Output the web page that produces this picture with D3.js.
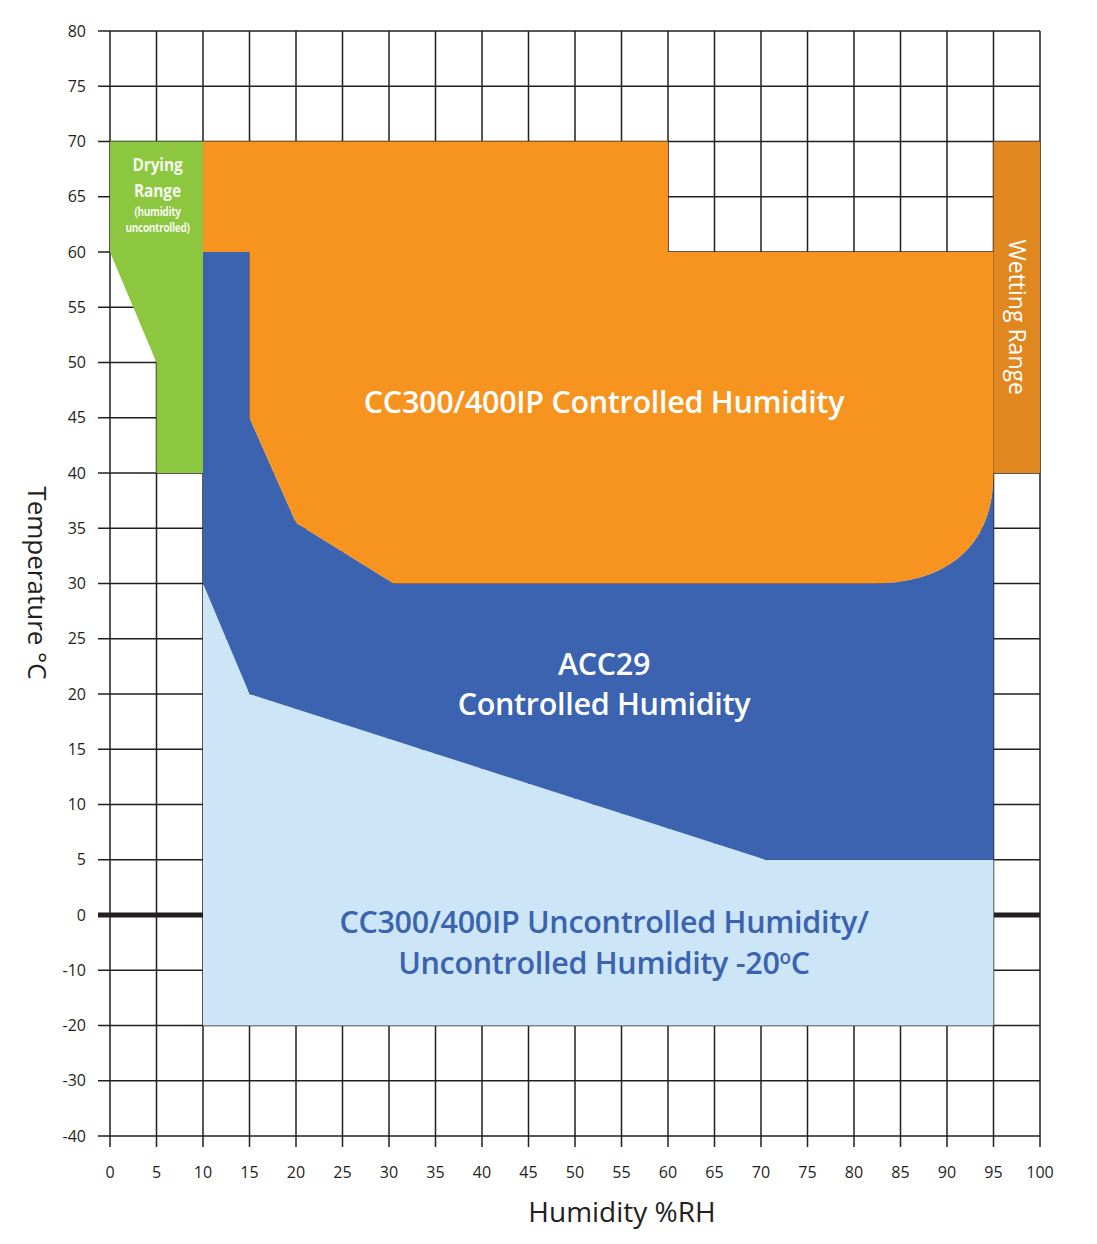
<!DOCTYPE html>
<html><head><meta charset="utf-8">
<script src="https://cdn.jsdelivr.net/npm/d3@7"></script>
<style>body{margin:0;background:#fff}svg{display:block}</style>
</head><body>
<script>
// ---- data ----
const xTicks = [0,5,10,15,20,25,30,35,40,45,50,55,60,65,70,75,80,85,90,95,100];
const yTicks = [80,75,70,65,60,55,50,45,40,35,30,25,20,15,10,5,0,-10,-20,-30,-40];
// region outlines [humidity %RH, temperature °C]
const lightBlueRegion = [[10,30],[15,20],[70.5,5],[95,5],[95,-20],[10,-20]];
const acc29Region = [[10,60],[15,60],[15,45],[20,35.5],[30.5,30],[82,30],[95,40],[95,5],[70.5,5],[15,20],[10,30]];
const orangeRegion = [[10,70],[60,70],[60,60],[95,60],[95,40],[82,30],[30.5,30],[20,35.5],[15,45],[15,60],[10,60]];
const cornerCurve = {from:[82,30], c1:[89.5,30], c2:[95,33], to:[95,40]}; // rounded corner
const dryingRegion = [[0,70],[10,70],[10,40],[5,40],[5,50],[0,60]];
const wettingRegion = [[95,70],[100,70],[100,40],[95,40]];
const dryingLines = [["Drying",18.5],["Range",18.5],["(humidity",12],["uncontrolled)",12]];

const W=1097,H=1244;
const svg=d3.select("body").append("svg").attr("width",W).attr("height",H);
const x=d3.scaleLinear().domain([0,100]).range([110,1040]);
const y=d3.scaleLinear().domain([-40,0,80]).range([1136,915,31]);
const gridCol="#231f20";
const fontTick="'Open Sans',sans-serif";

// grid
const g=svg.append("g");
g.selectAll(".h").data(yTicks).join("line")
  .attr("x1",x(0)-12).attr("x2",x(100)).attr("y1",d=>y(d)).attr("y2",d=>y(d))
  .attr("stroke",gridCol).attr("stroke-width",d=>d===0?5:1.5);
g.selectAll(".v").data(xTicks).join("line")
  .attr("x1",d=>x(d)).attr("x2",d=>x(d)).attr("y1",y(80)).attr("y2",y(-40)+11)
  .attr("stroke",gridCol).attr("stroke-width",1.5);

// tick labels
svg.append("g").selectAll("text").data(yTicks).join("text")
  .attr("x",86).attr("y",d=>y(d)).attr("dy","0.35em").attr("text-anchor","end")
  .attr("font-family",fontTick).attr("font-size",16).attr("fill",gridCol)
  .text(d=>d);
svg.append("g").selectAll("text").data(xTicks).join("text")
  .attr("x",d=>x(d)).attr("y",1178).attr("text-anchor","middle")
  .attr("font-family",fontTick).attr("font-size",16).attr("fill",gridCol)
  .text(d=>d);

const line=d3.line().x(d=>x(d[0])).y(d=>y(d[1]));
function poly(pts,fill){svg.append("path").attr("d",line(pts)+"Z").attr("fill",fill);}

// light blue
poly(lightBlueRegion,"#cce6f7");
// ACC29 blue with rounded corner
function withCorner(pts){
  const p=d3.path();
  pts.forEach((d,i)=>{
    const px=x(d[0]),py=y(d[1]);
    if(i===0){p.moveTo(px,py);return;}
    const prev=pts[i-1];
    if(prev[0]===cornerCurve.from[0]&&prev[1]===cornerCurve.from[1]&&d[0]===cornerCurve.to[0]&&d[1]===cornerCurve.to[1]){
      p.bezierCurveTo(x(cornerCurve.c1[0]),y(cornerCurve.c1[1]),x(cornerCurve.c2[0]),y(cornerCurve.c2[1]),px,py);
    } else if(prev[0]===cornerCurve.to[0]&&prev[1]===cornerCurve.to[1]&&d[0]===cornerCurve.from[0]&&d[1]===cornerCurve.from[1]){
      p.bezierCurveTo(x(cornerCurve.c2[0]),y(cornerCurve.c2[1]),x(cornerCurve.c1[0]),y(cornerCurve.c1[1]),px,py);
    } else p.lineTo(px,py);
  });
  p.closePath();return p.toString();
}
svg.append("path").attr("d",withCorner(acc29Region)).attr("fill","#3b63af");
svg.append("path").attr("d",withCorner(orangeRegion)).attr("fill","#f7931f");
poly(dryingRegion,"#8dc63f");
poly(wettingRegion,"#e0871f");

// labels
const fMain="'Open Sans',sans-serif";
function label(txt,cx,cy,size,fill,weight){
  return svg.append("text").attr("x",cx).attr("y",cy).attr("text-anchor","middle")
    .attr("font-family",fMain).attr("font-size",size).attr("font-weight",weight||600)
    .attr("fill",fill).text(txt);
}
label("CC300/400IP Controlled Humidity",604,413,30.5,"#fff").attr("letter-spacing",-0.3);
label("ACC29",604,675,30.5,"#fff").attr("letter-spacing",-0.3);
label("Controlled Humidity",604,715,30.5,"#fff").attr("letter-spacing",-0.3);
label("CC300/400IP Uncontrolled Humidity/",604,933,30.5,"#3b63af").attr("letter-spacing",-0.3);
const t2=label("",604,974,30.5,"#3b63af").attr("letter-spacing",-0.3);
t2.append("tspan").text("Uncontrolled Humidity -20");
t2.append("tspan").attr("font-size",19).attr("dy",-10).text("o");
t2.append("tspan").attr("dy",10).text("C");

// drying range (condensed, one text block)
const dt=svg.append("text").attr("transform",`translate(${x(5)+1},171) scale(0.84,1)`)
  .attr("text-anchor","middle").attr("font-family",fMain).attr("font-weight","bold")
  .attr("fill","#fff").attr("fill-opacity",0.92);
const dys=[0,25.6,19,16.5];
dryingLines.forEach(([t,s],i)=>{
  dt.append("tspan").attr("x",0).attr("dy",dys[i]).attr("font-size",s)
    .attr("letter-spacing",s<15?-0.4:-0.2).text(t);
});
// wetting range
svg.append("text").attr("transform",`translate(${x(97.5)-8},${y(54.1)}) rotate(90)`)
  .attr("text-anchor","middle").attr("font-family",fMain).attr("font-size",23)
  .attr("fill","#fff").text("Wetting Range");

// axis titles
svg.append("text").attr("x",622).attr("y",1222).attr("text-anchor","middle")
  .attr("font-family",fMain).attr("font-size",28).attr("fill",gridCol).text("Humidity %RH");
svg.append("text").attr("transform",`translate(28,583) rotate(90)`)
  .attr("text-anchor","middle").attr("font-family",fMain).attr("font-size",26)
  .attr("fill",gridCol).text("Temperature °C");
</script>
</body></html>
